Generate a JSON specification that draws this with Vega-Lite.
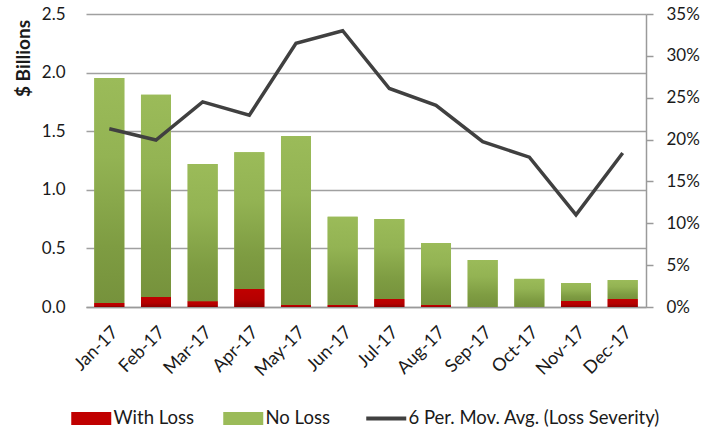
{
  "$schema": "https://vega.github.io/schema/vega-lite/v6.json",
  "width": 560,
  "height": 293,
  "autosize": "none",
  "padding": {"left": 86, "top": 14, "right": 70, "bottom": 122},
  "background": "white",
  "config": {
    "font": "Lato",
    "view": {"stroke": null},
    "axis": {"labelFont": "Lato", "labelColor": "#1a1a1a", "titleColor": "#1a1a1a", "domainColor": "#9a9a9a", "tickColor": "#9a9a9a", "gridColor": "#a0a0a0"}
  },
  "datasets": {
    "bars": [
      {"month": "Jan-17", "type": "With Loss", "ord": 1, "value": 0.034},
      {"month": "Jan-17", "type": "No Loss", "ord": 2, "value": 1.92},
      {"month": "Feb-17", "type": "With Loss", "ord": 1, "value": 0.085},
      {"month": "Feb-17", "type": "No Loss", "ord": 2, "value": 1.725},
      {"month": "Mar-17", "type": "With Loss", "ord": 1, "value": 0.05},
      {"month": "Mar-17", "type": "No Loss", "ord": 2, "value": 1.17},
      {"month": "Apr-17", "type": "With Loss", "ord": 1, "value": 0.154},
      {"month": "Apr-17", "type": "No Loss", "ord": 2, "value": 1.166},
      {"month": "May-17", "type": "With Loss", "ord": 1, "value": 0.017},
      {"month": "May-17", "type": "No Loss", "ord": 2, "value": 1.443},
      {"month": "Jun-17", "type": "With Loss", "ord": 1, "value": 0.017},
      {"month": "Jun-17", "type": "No Loss", "ord": 2, "value": 0.753},
      {"month": "Jul-17", "type": "With Loss", "ord": 1, "value": 0.068},
      {"month": "Jul-17", "type": "No Loss", "ord": 2, "value": 0.682},
      {"month": "Aug-17", "type": "With Loss", "ord": 1, "value": 0.017},
      {"month": "Aug-17", "type": "No Loss", "ord": 2, "value": 0.529},
      {"month": "Sep-17", "type": "With Loss", "ord": 1, "value": 0},
      {"month": "Sep-17", "type": "No Loss", "ord": 2, "value": 0.4},
      {"month": "Oct-17", "type": "With Loss", "ord": 1, "value": 0},
      {"month": "Oct-17", "type": "No Loss", "ord": 2, "value": 0.24},
      {"month": "Nov-17", "type": "With Loss", "ord": 1, "value": 0.051},
      {"month": "Nov-17", "type": "No Loss", "ord": 2, "value": 0.154},
      {"month": "Dec-17", "type": "With Loss", "ord": 1, "value": 0.068},
      {"month": "Dec-17", "type": "No Loss", "ord": 2, "value": 0.162}
    ],
    "line": [
      {"month": "Jan-17", "sev": 0.213},
      {"month": "Feb-17", "sev": 0.1995},
      {"month": "Mar-17", "sev": 0.245},
      {"month": "Apr-17", "sev": 0.229},
      {"month": "May-17", "sev": 0.315},
      {"month": "Jun-17", "sev": 0.33},
      {"month": "Jul-17", "sev": 0.261},
      {"month": "Aug-17", "sev": 0.241},
      {"month": "Sep-17", "sev": 0.1975},
      {"month": "Oct-17", "sev": 0.179},
      {"month": "Nov-17", "sev": 0.11},
      {"month": "Dec-17", "sev": 0.184}
    ]
  },
  "layer": [
    {
      "data": {"name": "bars"},
      "layer": [
        {
          "mark": {"type": "bar"},
          "encoding": {
            "x": {"field": "month", "type": "ordinal", "sort": null, "scale": {"paddingInner": 0.357, "paddingOuter": 0.178},
              "axis": {"title": null, "labelAngle": -45, "labelAlign": "right", "labelBaseline": "top", "labelFontSize": 18, "ticks": false, "labelPadding": 16, "domainWidth": 1.5}},
            "y": {"field": "value", "type": "quantitative", "stack": "zero", "scale": {"domain": [0, 2.5], "nice": false},
              "axis": {"orient": "left", "values": [0, 0.5, 1, 1.5, 2, 2.5], "format": ".1f", "title": "$ Billions", "titleFontSize": 19, "titleFontWeight": "bold", "titleAngle": -90, "titleX": -63, "titleY": 44, "titleAlign": "center", "titleBaseline": "middle", "labelFontSize": 17, "ticks": false, "domain": false, "labelPadding": 21, "grid": true, "gridWidth": 1.5}},
            "color": {"field": "type", "type": "nominal",
              "scale": {"domain": ["With Loss", "No Loss", "6 Per. Mov. Avg. (Loss Severity)"], "range": ["#c00000", "#9bbb59", "#404040"]},
              "legend": {"title": null, "orient": "none", "legendX": -4, "legendY": 395, "direction": "horizontal", "padding": 0, "labelFontSize": 18.5, "labelLimit": 0, "labelColor": "#1a1a1a", "labelOffset": 13, "columnPadding": 28, "symbolSize": 1600, "symbolStrokeWidth": 0,
                "encode": {
                  "symbols": {"update": {
                    "shape": {"signal": "datum.value === '6 Per. Mov. Avg. (Loss Severity)' ? 'M-1,0H1' : 'M-1,-0.325H1V0.325H-1Z'"},
                    "stroke": {"signal": "datum.value === '6 Per. Mov. Avg. (Loss Severity)' ? '#404040' : 'transparent'"},
                    "strokeWidth": {"signal": "datum.value === '6 Per. Mov. Avg. (Loss Severity)' ? 4 : 0"}
                  }}
                }}},
            "order": {"field": "ord", "type": "quantitative"}
          }
        },
        {
          "mark": {"type": "bar"},
          "encoding": {
            "x": {"field": "month", "type": "ordinal", "sort": null, "scale": {"paddingInner": 0.357, "paddingOuter": 0.178},
              "axis": {"title": null, "labelAngle": -45, "labelAlign": "right", "labelBaseline": "top", "labelFontSize": 18, "ticks": false, "labelPadding": 16, "domainWidth": 1.5}},
            "y": {"field": "value", "type": "quantitative", "stack": "zero", "scale": {"domain": [0, 2.5], "nice": false},
              "axis": {"orient": "left", "values": [0, 0.5, 1, 1.5, 2, 2.5], "format": ".1f", "title": "$ Billions", "titleFontSize": 19, "titleFontWeight": "bold", "titleAngle": -90, "titleX": -63, "titleY": 44, "titleAlign": "center", "titleBaseline": "middle", "labelFontSize": 17, "ticks": false, "domain": false, "labelPadding": 21, "grid": true, "gridWidth": 1.5}},
            "fill": {
              "condition": {"test": "datum.type === 'With Loss'", "value": {"gradient": "linear", "x1": 0, "y1": 0, "x2": 0, "y2": 1, "stops": [{"offset": 0, "color": "#c00000"}, {"offset": 0.6, "color": "#b50000"}, {"offset": 1, "color": "#8c0000"}]}},
              "value": {"gradient": "linear", "x1": 0, "y1": 0, "x2": 0, "y2": 1, "stops": [{"offset": 0, "color": "#9bbb59"}, {"offset": 0.35, "color": "#93b353"}, {"offset": 0.75, "color": "#7e9c42"}, {"offset": 1, "color": "#76923c"}]}
            },
            "order": {"field": "ord", "type": "quantitative"}
          }
        }
      ]
    },
    {
      "data": {"name": "line"},
      "mark": {"type": "line", "strokeWidth": 3.5, "color": "#404040", "strokeJoin": "miter"},
      "encoding": {
        "x": {"field": "month", "type": "ordinal", "sort": null, "scale": {"paddingInner": 0.357, "paddingOuter": 0.178},
          "axis": {"title": null, "labelAngle": -45, "labelAlign": "right", "labelBaseline": "top", "labelFontSize": 18, "ticks": false, "labelPadding": 16, "domainWidth": 1.5}},
        "y": {"field": "sev", "type": "quantitative", "scale": {"domain": [0, 0.35], "nice": false},
          "axis": {"orient": "right", "values": [0, 0.05, 0.1, 0.15, 0.2, 0.25, 0.3, 0.35], "format": ".0%", "title": null, "labelFontSize": 17, "grid": false, "tickSize": 7, "tickWidth": 1.5, "domainWidth": 1.5, "labelPadding": 13}},
        "color": {"datum": "6 Per. Mov. Avg. (Loss Severity)", "type": "nominal"}
      }
    }
  ],
  "resolve": {"scale": {"y": "independent"}}
}
